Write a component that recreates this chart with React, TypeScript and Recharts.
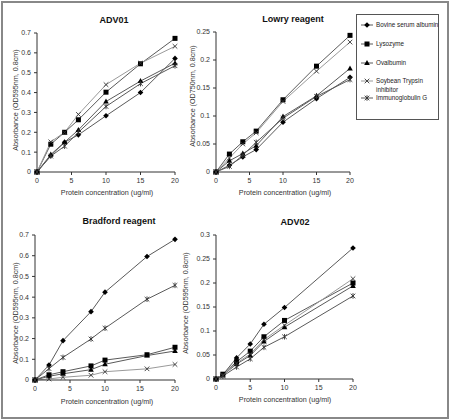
import React from 'react';
import { LineChart, Line, XAxis, YAxis } from 'recharts';

// ---- data ----
const seriesNames = ['Bovine serum albumin', 'Lysozyme', 'Ovalbumin', 'Soybean Trypsin inhibitor', 'Immunoglobulin G'];
const xTicks = [0, 5, 10, 15, 20];

const adv01X = [0, 2, 4, 6, 10, 15, 20];
const adv01Bsa = [0, 0.083, 0.15, 0.187, 0.283, 0.4, 0.572];
const adv01Lys = [0, 0.14, 0.2, 0.263, 0.402, 0.545, 0.673];
const adv01Ova = [0, 0.088, 0.15, 0.212, 0.355, 0.458, 0.548];
const adv01Sti = [0, 0.152, 0.2, 0.29, 0.44, 0.548, 0.633];
const adv01Igg = [0, 0.08, 0.13, 0.2, 0.33, 0.445, 0.535];
const adv01Ticks = [0, 0.1, 0.2, 0.3, 0.4, 0.5, 0.6, 0.7];

const lowryX = [0, 2, 4, 6, 10, 15, 20];
const lowryBsa = [0, 0.012, 0.027, 0.04, 0.089, 0.131, 0.169];
const lowryLys = [0, 0.032, 0.054, 0.073, 0.129, 0.189, 0.244];
const lowryOva = [0, 0.02, 0.033, 0.047, 0.099, 0.136, 0.185];
const lowrySti = [0, 0.025, 0.05, 0.07, 0.126, 0.18, 0.232];
const lowryIgg = [0, 0.01, 0.03, 0.053, 0.096, 0.135, 0.165];
const lowryTicks = [0, 0.05, 0.1, 0.15, 0.2, 0.25];

const bradX = [0, 2, 4, 8, 10, 16, 20];
const bradBsa = [0, 0.072, 0.19, 0.33, 0.424, 0.596, 0.679];
const bradLys = [0, 0.025, 0.04, 0.068, 0.096, 0.122, 0.158];
const bradOva = [0, 0.018, 0.03, 0.05, 0.076, 0.118, 0.14];
const bradSti = [0, 0.005, 0.013, 0.023, 0.04, 0.054, 0.075];
const bradIgg = [0, 0.055, 0.109, 0.198, 0.25, 0.39, 0.457];
const bradTicks = [0, 0.1, 0.2, 0.3, 0.4, 0.5, 0.6, 0.7];

const adv02X = [0, 1, 3, 5, 7, 10, 20];
const adv02Bsa = [0, 0.009, 0.044, 0.073, 0.114, 0.149, 0.273];
const adv02Lys = [0, 0.01, 0.036, 0.058, 0.088, 0.122, 0.2];
const adv02Ova = [0, 0.008, 0.031, 0.049, 0.078, 0.108, 0.194];
const adv02Sti = [0, 0.008, 0.033, 0.052, 0.082, 0.112, 0.209];
const adv02Igg = [0, 0.006, 0.025, 0.042, 0.066, 0.088, 0.173];
const adv02Ticks = [0, 0.05, 0.1, 0.15, 0.2, 0.25, 0.3];

const keys = ['bsa', 'lys', 'ova', 'sti', 'igg'];

const buildRows = (xs: number[], cols: number[][]) =>
  xs.map((x, i) => {
    const row: any = { x };
    keys.forEach((k, j) => (row[k] = cols[j][i]));
    return row;
  });

const FONT = 'Arial, "Liberation Sans", sans-serif';
const LINE = '#5a5a5a';
const LIGHT = '#9a9a9a';

// marker shapes
const Marker = ({ kind, cx, cy }: { kind: string; cx: number; cy: number }) => {
  if (kind === 'bsa') {
    const r = 2.8;
    return <polygon points={`${cx},${cy - r} ${cx + r},${cy} ${cx},${cy + r} ${cx - r},${cy}`} fill="#000" />;
  }
  if (kind === 'lys') return <rect x={cx - 2.5} y={cy - 2.5} width={5} height={5} fill="#000" />;
  if (kind === 'ova') return <polygon points={`${cx},${cy - 3} ${cx + 2.8},${cy + 2} ${cx - 2.8},${cy + 2}`} fill="#000" />;
  const s = 2.3;
  return (
    <g stroke="#333" strokeWidth={0.9}>
      <line x1={cx - s} y1={cy - s} x2={cx + s} y2={cy + s} />
      <line x1={cx - s} y1={cy + s} x2={cx + s} y2={cy - s} />
      {kind === 'igg' && <line x1={cx} y1={cy - s - 0.5} x2={cx} y2={cy + s + 0.5} />}
    </g>
  );
};

const dotFor = (kind: string) => (p: any) => <Marker key={`${kind}-${p.index}`} kind={kind} cx={p.cx} cy={p.cy} />;

interface PanelProps {
  left: number;
  top: number;
  right: number;
  bottom: number;
  rows: any[];
  yMax: number;
  yTicks: number[];
}

const Panel = ({ left, top, right, bottom, rows, yMax, yTicks }: PanelProps) => {
  const yw = 35;
  const xh = 25;
  const width = right - left + yw + 12;
  const height = bottom - top + 10 + xh;
  const tick = { fontSize: 7, fill: '#333', fontFamily: FONT };
  return (
    <div style={{ position: 'absolute', left: left - yw, top: top - 10 }}>
      <LineChart width={width} height={height} data={rows} margin={{ top: 10, right: 12, left: 0, bottom: 0 }}>
        <XAxis
          dataKey="x"
          type="number"
          domain={[0, 20]}
          ticks={xTicks}
          height={xh}
          tick={tick}
          tickSize={3}
          tickMargin={3}
          stroke="#333"
          interval={0}
        />
        <YAxis
          type="number"
          domain={[0, yMax]}
          ticks={yTicks}
          width={yw}
          tick={tick}
          tickSize={3}
          tickMargin={3}
          stroke="#333"
          interval={0}
        />
        {keys.map((k) => (
          <Line
            key={k}
            dataKey={k}
            stroke={k === 'sti' ? LIGHT : LINE}
            strokeWidth={1}
            type="linear"
            dot={dotFor(k)}
            activeDot={false}
            isAnimationActive={false}
          />
        ))}
      </LineChart>
    </div>
  );
};

const Title = ({ x, y, children }: any) => (
  <text x={x} y={y} textAnchor="middle" fontFamily={FONT} fontWeight="bold" fontSize={9} fill="#111">
    {children}
  </text>
);

// x-axis caption as plain html, centred on x
const XLabel = ({ x, y }: any) => (
  <div
    style={{
      position: 'absolute',
      left: x - 60,
      top: y - 7,
      width: 120,
      textAlign: 'center',
      fontFamily: FONT,
      fontSize: 7.2,
      lineHeight: '8px',
      color: '#333',
      whiteSpace: 'nowrap',
    }}
  >
    Protein concentration (ug/ml)
  </div>
);

const YLabel = ({ x, y, children }: any) => (
  <text transform={`translate(${x},${y}) rotate(-90)`} textAnchor="middle" fontFamily={FONT} fontSize={7.2} fill="#333">
    {children}
  </text>
);

export default function App() {
  const legendY = [25, 44, 63, 81, 98];
  return (
    <div style={{ position: 'absolute', left: 0, top: 0, width: 450, height: 419, background: '#fff' }}>
      <div
        style={{
          position: 'absolute',
          left: 1,
          top: 1,
          width: 444,
          height: 414,
          border: '2px solid #888',
        }}
      />
      <Panel left={37} top={33} right={175} bottom={172} yMax={0.7} yTicks={adv01Ticks}
        rows={buildRows(adv01X, [adv01Bsa, adv01Lys, adv01Ova, adv01Sti, adv01Igg])} />
      <Panel left={216} top={32} right={350} bottom={172} yMax={0.25} yTicks={lowryTicks}
        rows={buildRows(lowryX, [lowryBsa, lowryLys, lowryOva, lowrySti, lowryIgg])} />
      <Panel left={35} top={235} right={175} bottom={380} yMax={0.7} yTicks={bradTicks}
        rows={buildRows(bradX, [bradBsa, bradLys, bradOva, bradSti, bradIgg])} />
      <Panel left={216} top={235} right={353} bottom={379} yMax={0.3} yTicks={adv02Ticks}
        rows={buildRows(adv02X, [adv02Bsa, adv02Lys, adv02Ova, adv02Sti, adv02Igg])} />

      <XLabel x={107} y={196} />
      <XLabel x={285} y={196} />
      <XLabel x={107} y={405} />
      <XLabel x={285} y={403} />

      <svg width={450} height={419} style={{ position: 'absolute', left: 0, top: 0, pointerEvents: 'none' }}>
        <Title x={114} y={23}>ADV01</Title>
        <Title x={293} y={22}>Lowry reagent</Title>
        <Title x={119} y={224}>Bradford reagent</Title>
        <Title x={295} y={225}>ADV02</Title>

        <YLabel x={18} y={100}>Absorbance (OD595nm, 0.8cm)</YLabel>
        <YLabel x={195} y={96}>Absorbance (OD750nm, 0.8cm)</YLabel>
        <YLabel x={18} y={313}>Absorbance (OD595nm, 0.8cm)</YLabel>
        <YLabel x={188} y={303}>Absorbance (OD595nm, 0.8cm)</YLabel>

        <rect x={356.5} y={14.5} width={82} height={105} fill="#fff" stroke="#555" strokeWidth={1} />
        {keys.map((k, i) => (
          <g key={k}>
            <line x1={361} y1={legendY[i]} x2={373} y2={legendY[i]} stroke={k === 'sti' ? LIGHT : LINE} />
            <Marker kind={k} cx={367} cy={legendY[i]} />
            {k === 'sti' ? (
              <text x={376} y={legendY[i] + 2.2} fontFamily={FONT} fontSize={6.3} fill="#222">
                <tspan x={376}>Soybean Trypsin</tspan>
                <tspan x={376} dy={8.5}>inhibitor</tspan>
              </text>
            ) : (
              <text x={376} y={legendY[i] + 2.2} fontFamily={FONT} fontSize={6.3} fill="#222">
                {seriesNames[i]}
              </text>
            )}
          </g>
        ))}
      </svg>
    </div>
  );
}
